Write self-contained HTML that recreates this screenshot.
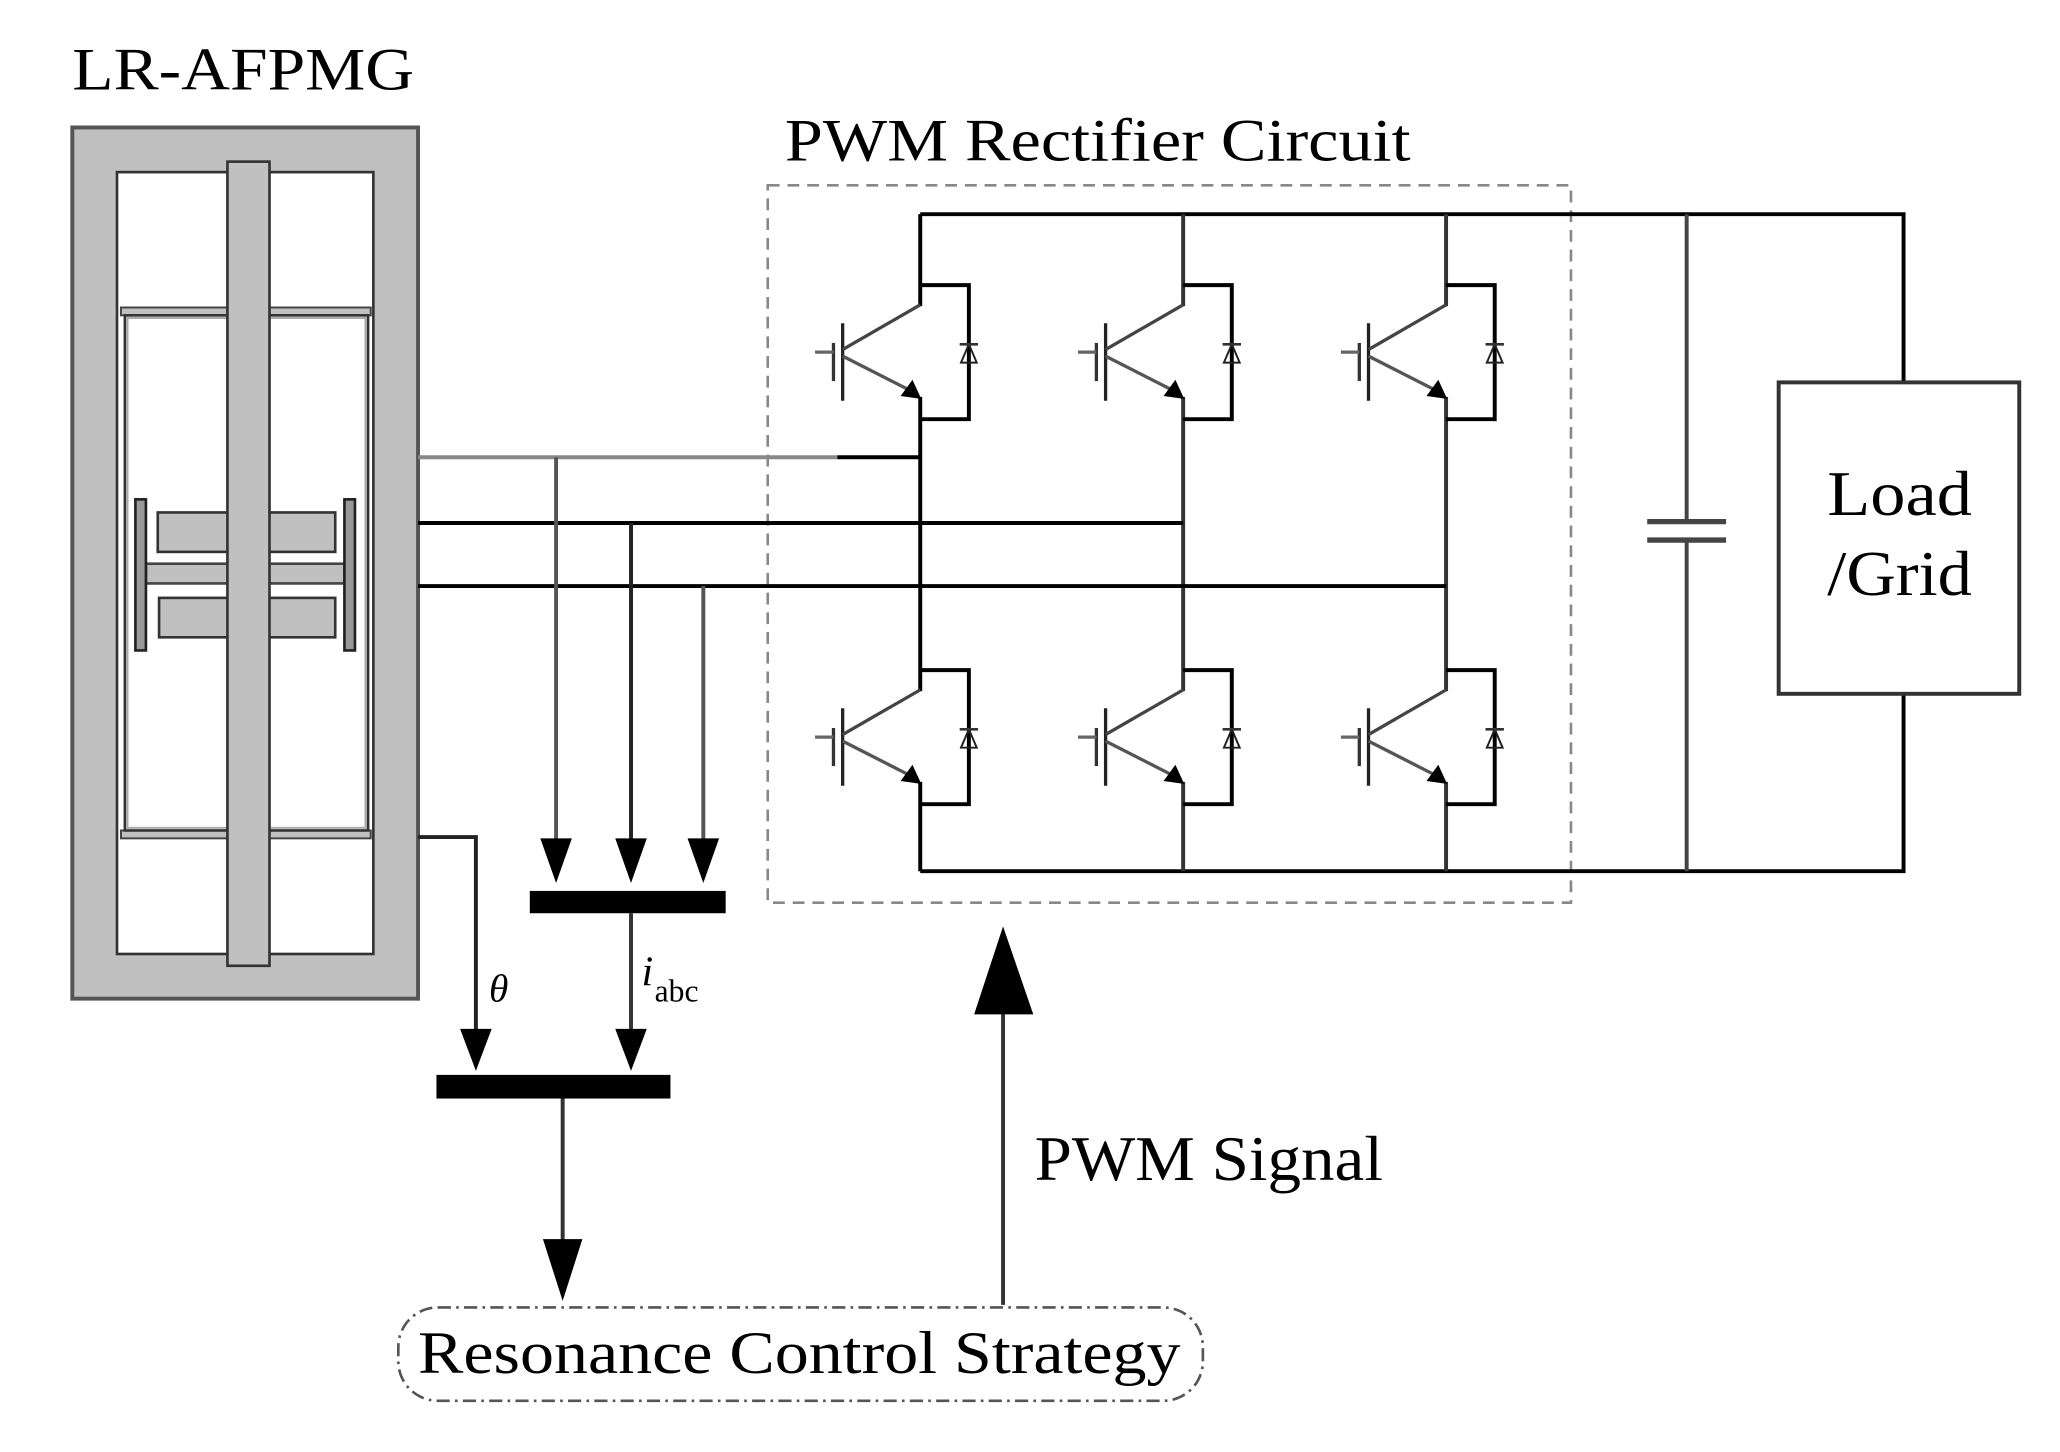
<!DOCTYPE html>
<html><head><meta charset="utf-8"><style>html,body{margin:0;padding:0;background:#fff}svg{display:block}</style></head>
<body>
<svg width="2060" height="1452" viewBox="0 0 1567 1105" preserveAspectRatio="none" xmlns="http://www.w3.org/2000/svg">
<defs>
<g id="igbt" fill="none" stroke-linecap="butt">
  <polyline points="0,-16 37,-16 37,86 0,86" stroke="#000" stroke-width="3"/>
  <line x1="-59" y1="13" x2="-59" y2="72" stroke="#222" stroke-width="2.5"/>
  <line x1="-66" y1="28" x2="-66" y2="57" stroke="#333" stroke-width="2.5"/>
  <line x1="-80" y1="35" x2="-66" y2="35" stroke="#666" stroke-width="2.5"/>
  <line x1="-59" y1="33" x2="0" y2="-1" stroke="#444" stroke-width="2.5"/>
  <line x1="-59" y1="38" x2="-8" y2="64" stroke="#555" stroke-width="2.5"/>
  <polygon points="0,70 -14,68 -6,57" fill="#000" stroke="#000" stroke-width="1"/>
  <polygon points="37,29 31,43 43,43" fill="none" stroke="#222" stroke-width="1.5"/>
  <line x1="30" y1="29" x2="44" y2="29" stroke="#333" stroke-width="2"/>
</g>
</defs>
<g font-family="Liberation Serif, serif" fill="#000">
<text x="55" y="68" font-size="46" textLength="260" lengthAdjust="spacingAndGlyphs">LR-AFPMG</text>
<text x="597" y="122" font-size="46" textLength="476" lengthAdjust="spacingAndGlyphs">PWM Rectifier Circuit</text>
<text x="1390" y="392" font-size="48" textLength="110" lengthAdjust="spacingAndGlyphs">Load</text>
<text x="1390" y="453" font-size="48" textLength="110" lengthAdjust="spacingAndGlyphs">/Grid</text>
<text x="787" y="898" font-size="48" textLength="265" lengthAdjust="spacingAndGlyphs">PWM Signal</text>
<text x="318" y="1045" font-size="46" textLength="580" lengthAdjust="spacingAndGlyphs">Resonance Control Strategy</text>
<text x="372" y="762" font-size="30" font-style="italic">θ</text>
<text x="488" y="750" font-size="32" font-style="italic">i</text>
<text x="498" y="762" font-size="24">abc</text>
</g>
<rect x="55" y="97" width="263" height="663" fill="#c0c0c0" stroke="#555" stroke-width="3"/>
<rect x="89" y="131" width="195" height="595" fill="#fff" stroke="#333" stroke-width="2"/>
<rect x="92" y="234" width="190" height="6" fill="#c0c0c0" stroke="#444" stroke-width="1.5"/>
<rect x="92" y="632" width="190" height="6" fill="#c0c0c0" stroke="#444" stroke-width="1.5"/>
<rect x="95" y="240" width="185" height="392" fill="#fff" stroke="#333" stroke-width="2"/>
<rect x="97" y="242" width="181" height="388" fill="none" stroke="#aaa" stroke-width="1.5"/>
<rect x="120" y="390" width="135" height="30" fill="#c0c0c0" stroke="#333" stroke-width="2"/>
<rect x="121" y="455" width="134" height="30" fill="#c0c0c0" stroke="#333" stroke-width="2"/>
<rect x="111" y="429" width="151" height="15" fill="#c0c0c0" stroke="#444" stroke-width="2"/>
<rect x="103" y="380" width="8" height="115" fill="#999" stroke="#222" stroke-width="2"/>
<rect x="262" y="380" width="8" height="115" fill="#999" stroke="#222" stroke-width="2"/>
<rect x="173" y="123" width="32" height="612" fill="#c0c0c0" stroke="#333" stroke-width="2"/>
<rect x="584" y="141" width="611" height="546" fill="none" stroke="#888" stroke-width="2" stroke-dasharray="9,6"/>
<g stroke="#000" stroke-width="3" fill="none">
<polyline points="700,163 1448,163 1448,291"/>
<polyline points="700,663 1448,663 1448,528"/>
<line x1="700" y1="163" x2="700" y2="233"/>
<line x1="900" y1="163" x2="900" y2="233" stroke="#333"/>
<line x1="1100" y1="163" x2="1100" y2="233" stroke="#333"/>
<line x1="700" y1="302" x2="700" y2="526"/>
<line x1="900" y1="302" x2="900" y2="526" stroke="#333"/>
<line x1="1100" y1="302" x2="1100" y2="526" stroke="#333"/>
<line x1="700" y1="595" x2="700" y2="663"/>
<line x1="900" y1="595" x2="900" y2="663" stroke="#333"/>
<line x1="1100" y1="595" x2="1100" y2="663" stroke="#333"/>
<line x1="1283" y1="163" x2="1283" y2="397" stroke="#444"/>
<line x1="1283" y1="411" x2="1283" y2="663" stroke="#444"/>
<line x1="1253" y1="397" x2="1313" y2="397" stroke="#444" stroke-width="4"/>
<line x1="1253" y1="411" x2="1313" y2="411" stroke="#444" stroke-width="4"/>
<line x1="318" y1="348" x2="637" y2="348" stroke="#888"/>
<line x1="637" y1="348" x2="700" y2="348"/>
<line x1="318" y1="398" x2="900" y2="398"/>
<line x1="318" y1="446" x2="1100" y2="446"/>
</g>
<rect x="1353" y="291" width="183" height="237" fill="none" stroke="#333" stroke-width="3"/>
<use href="#igbt" x="700" y="233"/>
<use href="#igbt" x="900" y="233"/>
<use href="#igbt" x="1100" y="233"/>
<use href="#igbt" x="700" y="526"/>
<use href="#igbt" x="900" y="526"/>
<use href="#igbt" x="1100" y="526"/>
<g stroke="#555" stroke-width="3" fill="none">
<line x1="423" y1="348" x2="423" y2="640"/>
<line x1="480" y1="398" x2="480" y2="640" stroke="#222"/>
<line x1="535" y1="446" x2="535" y2="640"/>
<line x1="480" y1="695" x2="480" y2="785" stroke="#333"/>
<polyline points="318,637 362,637 362,785" stroke="#222"/>
<line x1="428" y1="836" x2="428" y2="945" stroke="#333"/>
<line x1="763" y1="770" x2="763" y2="993" stroke="#333"/>
</g>
<g fill="#000">
<polygon points="411,638 435,638 423,672"/>
<polygon points="468,638 492,638 480,672"/>
<polygon points="523,638 547,638 535,672"/>
<polygon points="468,783 492,783 480,815"/>
<polygon points="350,783 374,783 362,815"/>
<polygon points="413,943 443,943 428,990"/>
<polygon points="741,772 786,772 763,705"/>
<rect x="403" y="678" width="149" height="17"/>
<rect x="332" y="818" width="178" height="18"/>
</g>
<rect x="303" y="995" width="612" height="71" rx="30" fill="none" stroke="#555" stroke-width="2" stroke-dasharray="10,4,2,4"/>
</svg>
</body></html>
